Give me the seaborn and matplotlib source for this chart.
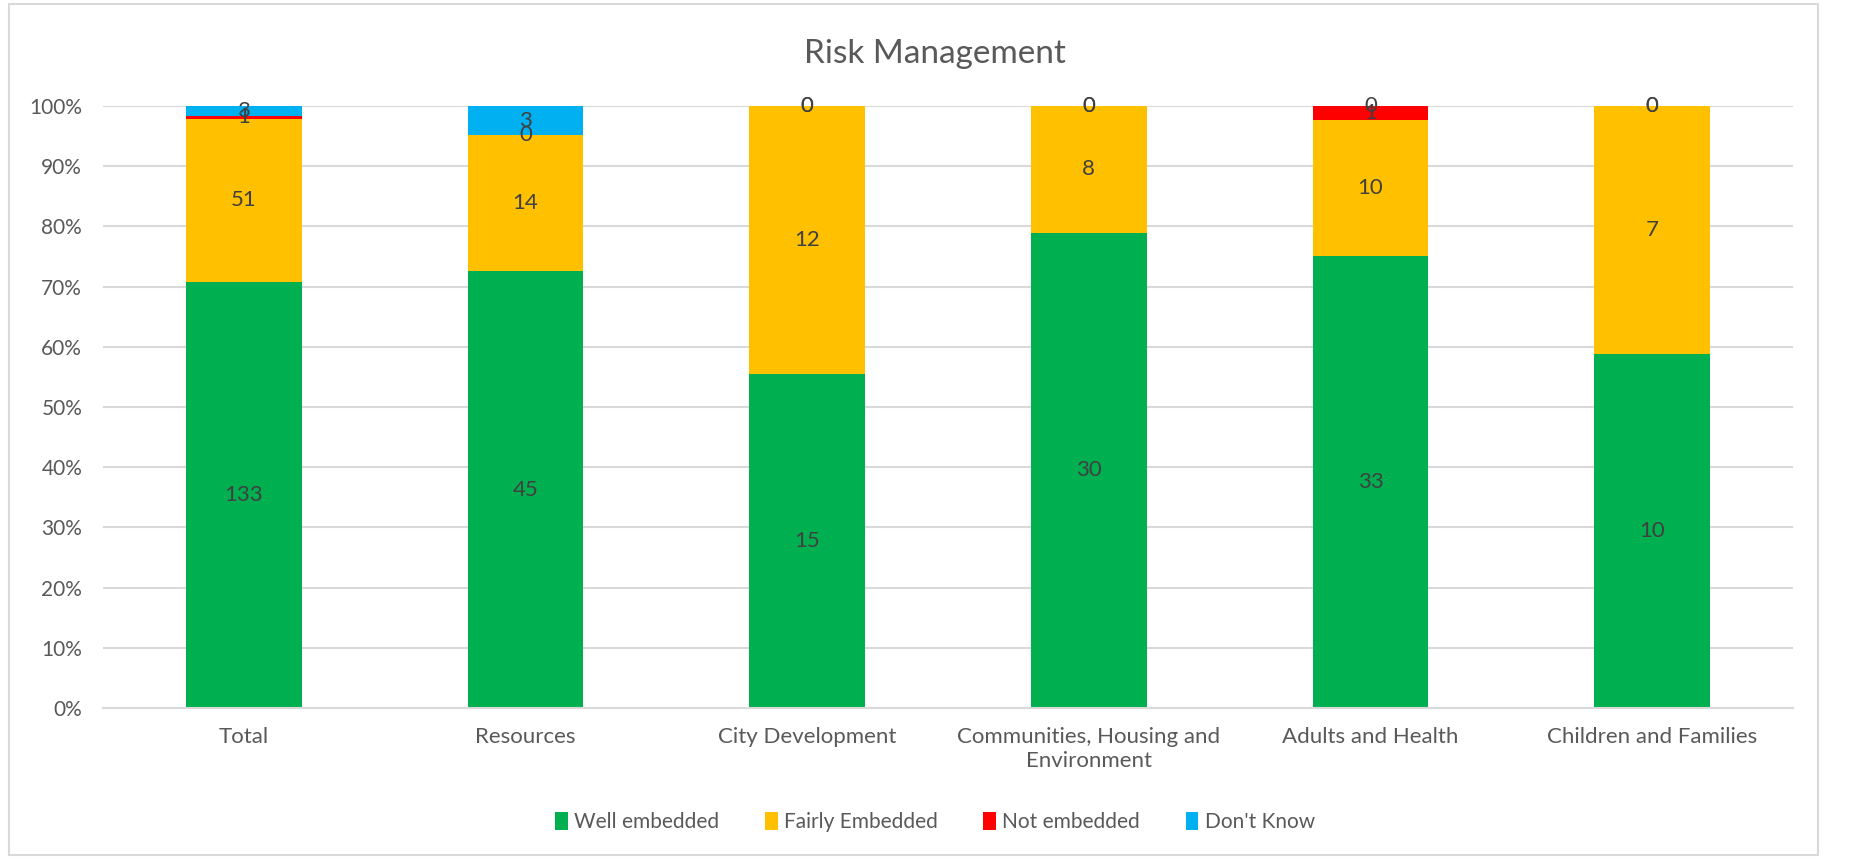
import numpy as np
import pandas as pd
import seaborn as sns
import matplotlib.pyplot as plt
from matplotlib.patches import Rectangle

# Chart data
categories = ["Total", "Resources", "City Development",
              "Communities, Housing and\nEnvironment", "Adults and Health",
              "Children and Families"]
well_embedded = [133, 45, 15, 30, 33, 10]
fairly_embedded = [51, 14, 12, 8, 10, 7]
not_embedded = [1, 0, 0, 0, 1, 0]
dont_know = [3, 3, 0, 0, 0, 0]

series_names = ["Well embedded", "Fairly Embedded", "Not embedded", "Don't Know"]
series_values = [well_embedded, fairly_embedded, not_embedded, dont_know]
colors = ["#00B050", "#FFC000", "#FF0000", "#00B0F0"]

sns.set_theme(style="white")
plt.rcParams["font.family"] = ["Lato", "DejaVu Sans"]

counts = np.array(series_values, dtype=float)
totals = counts.sum(axis=0)
shares = counts / totals * 100

fig = plt.figure(figsize=(18.7, 8.59), dpi=100)
ax = fig.add_axes([0.0551, 0.1758, 0.9037, 0.7008])

bottom = np.zeros(len(categories))
for name, share, cnt, col in zip(series_names, shares, counts, colors):
    df = pd.DataFrame({"category": categories, "share": share})
    n_before = len(ax.containers)
    sns.barplot(data=df, x="category", y="share", bottom=bottom, color=col,
                width=0.41, ax=ax, label=name, saturation=1, linewidth=0)
    cont = ax.containers[n_before]
    ax.bar_label(cont, labels=[f"{int(v)}" for v in cnt], label_type="center",
                 fontsize=16, color="#404040")
    bottom = bottom + share

ax.set_ylim(0, 100)
ax.set_xlim(-0.5, len(categories) - 0.5)
ax.set_yticks(np.arange(0, 101, 10))
ax.set_yticklabels([f"{v}%" for v in range(0, 101, 10)])
ax.yaxis.grid(True, color="#D9D9D9", linewidth=1.5)
ax.set_axisbelow(True)
for s in ["top", "right", "left"]:
    ax.spines[s].set_visible(False)
ax.spines["bottom"].set_color("#D9D9D9")
ax.spines["bottom"].set_linewidth(1.5)
ax.tick_params(axis="x", length=0, labelsize=16, labelcolor="#595959", pad=14)
ax.tick_params(axis="y", length=0, labelsize=15, labelcolor="#595959", pad=15)
ax.set_xlabel("")
ax.set_ylabel("")

fig.text(0.5, 0.937, "Risk Management", ha="center", va="center",
         fontsize=24, color="#595959")

handles, labels = ax.get_legend_handles_labels()
if ax.get_legend():
    ax.get_legend().remove()
fig.legend(handles, labels, loc="center", bbox_to_anchor=(0.5, 0.043), ncol=4,
           frameon=False, fontsize=15, labelcolor="#595959",
           handlelength=0.6, handleheight=0.9, handletextpad=0.3, columnspacing=2.2)

# chart frame
fig.patches.append(Rectangle((0.005, 0.005), 0.967, 0.99, transform=fig.transFigure,
                             fill=False, edgecolor="#D9D9D9", linewidth=1.5))

fig.savefig("out.png", dpi=100)
